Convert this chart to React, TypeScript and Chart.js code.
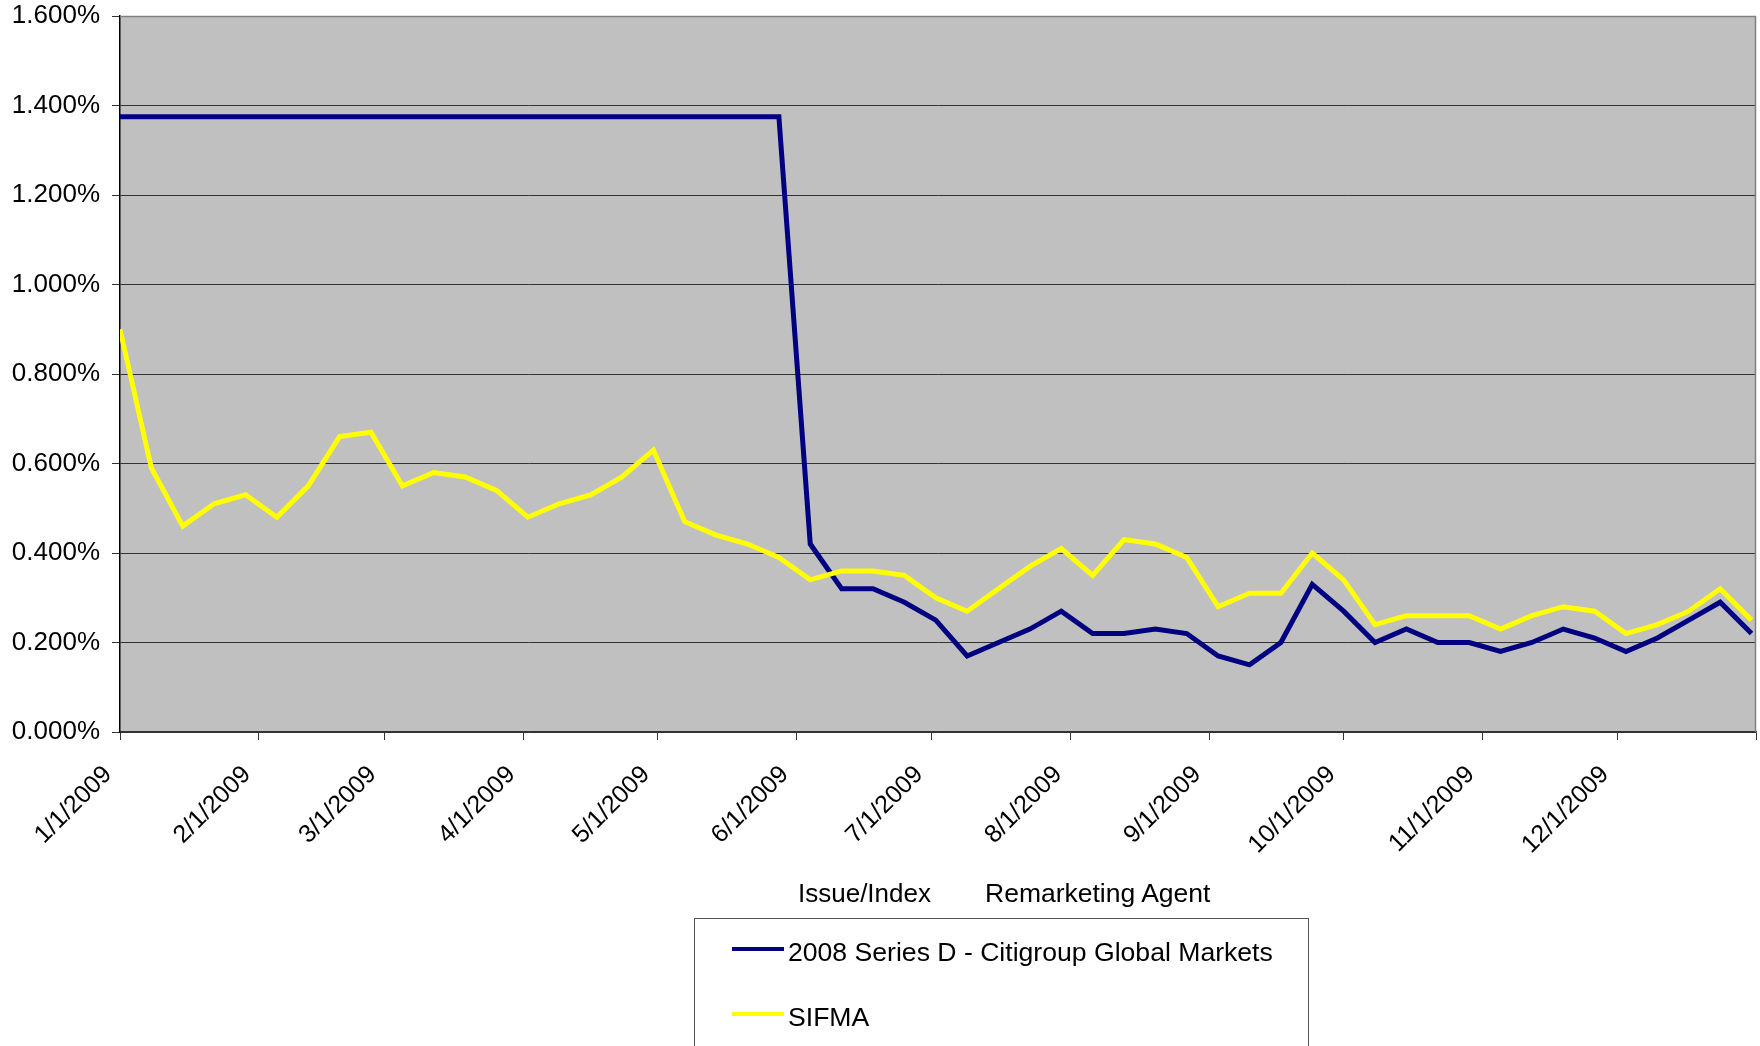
import React, { useEffect, useRef } from 'react';
import { Chart, registerables } from 'chart.js';

Chart.register(...registerables);

// Weekly observation dates (M/D/YYYY)
const weekDates = [
  '1/1/2009', '1/8/2009', '1/15/2009', '1/22/2009', '1/29/2009',
  '2/5/2009', '2/12/2009', '2/19/2009', '2/26/2009',
  '3/5/2009', '3/12/2009', '3/19/2009', '3/26/2009',
  '4/2/2009', '4/9/2009', '4/16/2009', '4/23/2009', '4/30/2009',
  '5/7/2009', '5/14/2009', '5/21/2009', '5/28/2009',
  '6/4/2009', '6/11/2009', '6/18/2009', '6/25/2009',
  '7/2/2009', '7/9/2009', '7/16/2009', '7/23/2009', '7/30/2009',
  '8/6/2009', '8/13/2009', '8/20/2009', '8/27/2009',
  '9/3/2009', '9/10/2009', '9/17/2009', '9/24/2009',
  '10/1/2009', '10/8/2009', '10/15/2009', '10/22/2009', '10/29/2009',
  '11/5/2009', '11/12/2009', '11/19/2009', '11/26/2009',
  '12/3/2009', '12/10/2009', '12/17/2009', '12/24/2009', '12/31/2009',
];

// 2008 Series D - Citigroup Global Markets (%)
const citigroupRates = [
  1.375, 1.375, 1.375, 1.375, 1.375,
  1.375, 1.375, 1.375, 1.375,
  1.375, 1.375, 1.375, 1.375,
  1.375, 1.375, 1.375, 1.375, 1.375,
  1.375, 1.375, 1.375, 1.375,
  0.42, 0.32, 0.32, 0.29,
  0.25, 0.17, 0.20, 0.23, 0.27,
  0.22, 0.22, 0.23, 0.22,
  0.17, 0.15, 0.20, 0.33,
  0.27, 0.20, 0.23, 0.20, 0.20,
  0.18, 0.20, 0.23, 0.21,
  0.18, 0.21, 0.25, 0.29, 0.22,
];

// SIFMA index (%)
const sifmaRates = [
  0.90, 0.59, 0.46, 0.51, 0.53,
  0.48, 0.55, 0.66, 0.67,
  0.55, 0.58, 0.57, 0.54,
  0.48, 0.51, 0.53, 0.57, 0.63,
  0.47, 0.44, 0.42, 0.39,
  0.34, 0.36, 0.36, 0.35,
  0.30, 0.27, 0.32, 0.37, 0.41,
  0.35, 0.43, 0.42, 0.39,
  0.28, 0.31, 0.31, 0.40,
  0.34, 0.24, 0.26, 0.26, 0.26,
  0.23, 0.26, 0.28, 0.27,
  0.22, 0.24, 0.27, 0.32, 0.25,
];

const monthTickLabels = [
  '1/1/2009', '2/1/2009', '3/1/2009', '4/1/2009', '5/1/2009', '6/1/2009',
  '7/1/2009', '8/1/2009', '9/1/2009', '10/1/2009', '11/1/2009', '12/1/2009',
];
const axisEndDate = '1/1/2010';

const seriesNames = ['2008 Series D - Citigroup Global Markets', 'SIFMA'];
const seriesColors = ['#000080', '#FFFF00'];
const axisTitleParts = ['Issue/Index', 'Remarketing Agent'];

const FONT = '"Liberation Sans", Arial, sans-serif';

function dayOffset(s: string): number {
  const [m, d, y] = s.split('/').map(Number);
  return Math.round((Date.UTC(y, m - 1, d) - Date.UTC(2009, 0, 1)) / 86400000);
}

const plotFrame = {
  id: 'plotFrame',
  beforeDraw(chart: any) {
    const { ctx, chartArea } = chart;
    const { left, top, width, height } = chartArea;
    ctx.save();
    ctx.fillStyle = '#C0C0C0';
    ctx.fillRect(left, top, width, height);
    ctx.restore();
  },
  beforeDatasetsDraw(chart: any) {
    const { ctx, chartArea } = chart;
    const { left, top, right, bottom } = chartArea;
    ctx.save();
    ctx.strokeStyle = '#808080';
    ctx.lineWidth = 1.5;
    ctx.beginPath();
    ctx.moveTo(left, Math.round(top) + 0.5);
    ctx.lineTo(Math.round(right) - 0.5, Math.round(top) + 0.5);
    ctx.lineTo(Math.round(right) - 0.5, bottom);
    ctx.stroke();
    ctx.restore();
  },
};

export default function App() {
  const canvasRef = useRef<HTMLCanvasElement | null>(null);

  useEffect(() => {
    const canvas = canvasRef.current;
    if (!canvas) return;
    const tickDays = [...monthTickLabels.map(dayOffset), dayOffset(axisEndDate)];
    const chart = new Chart(canvas, {
      type: 'line',
      data: {
        datasets: [
          {
            label: seriesNames[0],
            data: weekDates.map((d, i) => ({ x: dayOffset(d), y: citigroupRates[i] })),
            borderColor: seriesColors[0],
            backgroundColor: seriesColors[0],
            borderWidth: 5,
            pointRadius: 0,
            tension: 0,
            order: 1,
          },
          {
            label: seriesNames[1],
            data: weekDates.map((d, i) => ({ x: dayOffset(d), y: sifmaRates[i] })),
            borderColor: seriesColors[1],
            backgroundColor: seriesColors[1],
            borderWidth: 5,
            pointRadius: 0,
            tension: 0,
            order: 0,
          },
        ],
      },
      options: {
        responsive: false,
        animation: false,
        devicePixelRatio: 1,
        layout: { padding: { top: 16, right: 4, left: 0, bottom: 0 } },
        plugins: {
          legend: { display: false },
          tooltip: { enabled: false },
        },
        scales: {
          x: {
            type: 'linear',
            min: 0,
            max: dayOffset(axisEndDate),
            afterBuildTicks: (scale: any) => {
              scale.ticks = tickDays.map((v) => ({ value: v }));
            },
            afterFit: (scale: any) => {
              scale.height = 1046 - 732;
              scale.paddingLeft = 0;
              scale.paddingRight = 0;
            },
            ticks: {
              autoSkip: false,
              minRotation: 45,
              maxRotation: 45,
              padding: 20,
              labelOffset: -12,
              color: '#000',
              font: { family: FONT, size: 25 },
              callback: (_v: any, index: number) =>
                index < monthTickLabels.length ? monthTickLabels[index] : '',
            },
            grid: {
              drawOnChartArea: false,
              drawTicks: true,
              tickLength: 8,
              color: '#333',
            },
            border: { display: true, color: '#333', width: 1.5 },
          },
          y: {
            min: 0,
            max: 1.6,
            afterFit: (scale: any) => {
              scale.width = 120;
              scale.paddingTop = 0;
              scale.paddingBottom = 0;
            },
            ticks: {
              stepSize: 0.2,
              padding: 12,
              color: '#000',
              font: { family: FONT, size: 26 },
              callback: (v: any) => Number(v).toFixed(3) + '%',
            },
            grid: {
              color: '#333',
              lineWidth: 1,
              tickLength: 8,
            },
            border: { display: true, color: '#000', width: 1.5 },
          },
        },
      },
      plugins: [plotFrame],
    });
    return () => chart.destroy();
  }, []);

  const textStyle: React.CSSProperties = {
    position: 'absolute',
    fontFamily: FONT,
    fontSize: 26,
    lineHeight: '30px',
    color: '#000',
    whiteSpace: 'pre',
  };

  return (
    <div
      style={{
        position: 'absolute',
        left: 0,
        top: 0,
        width: 1760,
        height: 1046,
        overflow: 'hidden',
        background: '#fff',
      }}
    >
      <canvas
        ref={canvasRef}
        width={1760}
        height={1046}
        style={{ position: 'absolute', left: 0, top: 0, width: 1760, height: 1046 }}
      />
      <div style={{ ...textStyle, left: 798, top: 878 }}>{axisTitleParts[0]}</div>
      <div style={{ ...textStyle, left: 985, top: 878, fontSize: 26.5 }}>{axisTitleParts[1]}</div>
      <div
        style={{
          position: 'absolute',
          left: 694,
          top: 918,
          width: 615,
          height: 160,
          border: '1.5px solid #555',
          boxSizing: 'border-box',
        }}
      />
      {seriesNames.map((name, i) => (
        <React.Fragment key={name}>
          <div
            style={{
              position: 'absolute',
              left: 732,
              top: (i === 0 ? 949 : 1014) - 2,
              width: 52,
              height: 4,
              background: seriesColors[i],
            }}
          />
          <div style={{ ...textStyle, left: 788, top: i === 0 ? 937 : 1002, fontSize: 26.6 }}>{name}</div>
        </React.Fragment>
      ))}
    </div>
  );
}
